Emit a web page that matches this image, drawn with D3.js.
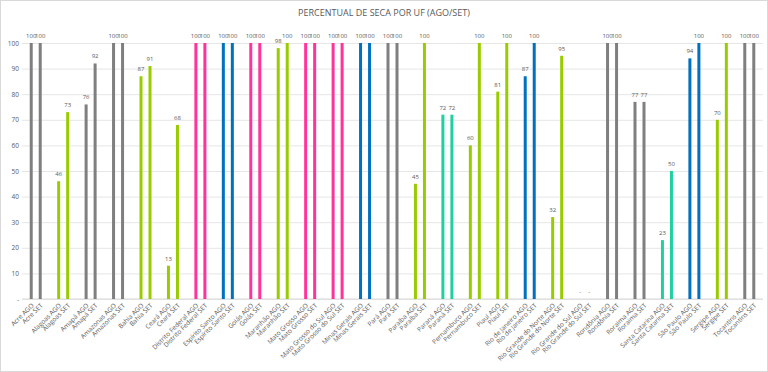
<!DOCTYPE html>
<html>
<head>
<meta charset="utf-8">
<script src="https://cdn.jsdelivr.net/npm/d3@7"></script>
<style>
  body { margin: 0; background: #fff; }
  text { font-family: "Open Sans", "Noto Sans", sans-serif; }
</style>
</head>
<body>
<svg id="chart" width="768" height="372"></svg>
<script>
const states = ['Acre', 'Alagoas', 'Amapá', 'Amazonas', 'Bahia', 'Ceará', 'Distrito Federal',
  'Espírito Santo', 'Goiás', 'Maranhão', 'Mato Grosso', 'Mato Grosso do Sul', 'Minas Gerais',
  'Pará', 'Paraíba', 'Paraná', 'Pernambuco', 'Piauí', 'Rio de Janeiro', 'Rio Grande do Norte',
  'Rio Grande do Sul', 'Rondônia', 'Roraima', 'Santa Catarina', 'São Paulo', 'Sergipe', 'Tocantins'];
const months = ['AGO', 'SET'];
const ago = [100, 46, 76, 100, 87, 13, 100, 100, 100, 98, 100, 100, 100, 100, 45, 72, 60, 81, 87, 32, 0, 100, 77, 23, 94, 70, 100];
const set = [100, 73, 92, 100, 91, 68, 100, 100, 100, 100, 100, 100, 100, 100, 100, 72, 100, 100, 100, 95, 0, 100, 77, 50, 100, 100, 100];
const group = ['g', 'v', 'g', 'g', 'v', 'v', 'r', 'a', 'r', 'v', 'r', 'r', 'a', 'g', 'v', 't', 'v', 'v', 'a', 'v', 'g', 'g', 'g', 't', 'a', 'v', 'g'];
const yTicks = [0, 10, 20, 30, 40, 50, 60, 70, 80, 90, 100];

const palette = { g: '#7f7f7f', v: '#99cc00', r: '#ff3399', a: '#0070c0', t: '#1fd1a0' };

const data = [];
states.forEach((s, i) => {
  data.push({ state: s, month: 'AGO', label: s + ' AGO', value: ago[i], color: palette[group[i]] });
  data.push({ state: s, month: 'SET', label: s + ' SET', value: set[i], color: palette[group[i]] });
});

const svg = d3.select('#chart');
const margin = { top: 43, right: 5, bottom: 73, left: 22 };
const width = 768 - margin.left - margin.right,
  height = 372 - margin.top - margin.bottom;

svg.append('rect')
  .attr('x', 0.5).attr('y', 0.5)
  .attr('width', 767).attr('height', 371)
  .attr('fill', '#fff').attr('stroke', '#d9d9d9');

svg.append('text')
  .attr('x', 384).attr('y', 16)
  .attr('text-anchor', 'middle')
  .attr('font-size', 9)
  .attr('fill', '#595959')
  .text('PERCENTUAL DE SECA POR UF (AGO/SET)');

const x0 = d3.scaleBand().domain(states).range([0, width]);
const x1 = d3.scaleBand().domain(months)
  .range([x0.bandwidth() / 2 - 6, x0.bandwidth() / 2 + 6])
  .paddingInner(0.667).paddingOuter(0);
const y = d3.scaleLinear().domain([0, 100]).range([height, 0]);
const bx = d => x0(d.state) + x1(d.month);

const g = svg.append('g').attr('transform', `translate(${margin.left},${margin.top})`);

// gridlines
g.append('g')
  .call(d3.axisLeft(y).tickValues(yTicks).tickSize(-width).tickFormat(d => d === 0 ? '-' : d))
  .call(a => a.select('.domain').remove())
  .call(a => a.selectAll('line').attr('stroke', '#e6e6e6'))
  .call(a => a.selectAll('text').attr('fill', '#595959').attr('font-size', 6.5).attr('x', -3));

g.append('line')
  .attr('x1', 0).attr('x2', width)
  .attr('y1', height).attr('y2', height)
  .attr('stroke', '#d9d9d9');

g.selectAll('.bar')
  .data(data)
  .enter().append('rect')
  .attr('class', 'bar')
  .attr('x', d => bx(d))
  .attr('y', d => y(d.value))
  .attr('width', x1.bandwidth())
  .attr('height', d => height - y(d.value))
  .attr('fill', d => d.color);

g.selectAll('.lbl')
  .data(data)
  .enter().append('text')
  .attr('class', 'lbl')
  .attr('x', d => bx(d) + x1.bandwidth() / 2)
  .attr('y', d => y(d.value) - 5)
  .attr('text-anchor', 'middle')
  .attr('font-size', 6)
  .attr('fill', '#595959')
  .text(d => d.value === 0 ? '-' : d.value);

g.selectAll('.xl')
  .data(data)
  .enter().append('text')
  .attr('class', 'xl')
  .attr('text-anchor', 'end')
  .attr('font-size', 6.5)
  .attr('fill', '#595959')
  .attr('transform', d => `translate(${bx(d) + x1.bandwidth() / 2 + 3},${height + 7}) rotate(-45)`)
  .text(d => d.label);
</script>
</body>
</html>
